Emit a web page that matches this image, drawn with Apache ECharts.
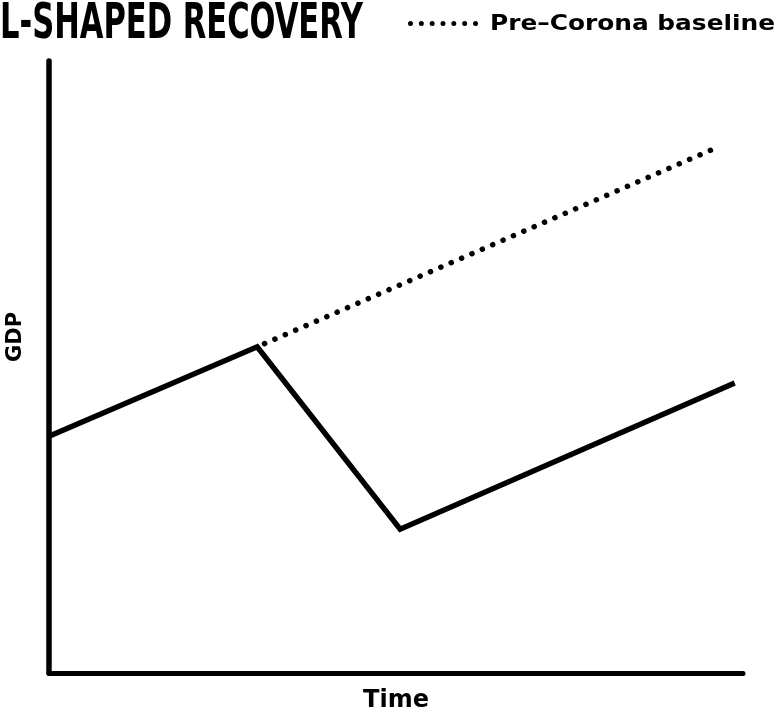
<!DOCTYPE html>
<html>
<head>
<meta charset="utf-8">
<script src="https://cdn.jsdelivr.net/npm/echarts@6/dist/echarts.min.js"></script>
<style>
  html, body { margin: 0; padding: 0; background: #fff; }
  #chart { width: 778px; height: 708px; }
</style>
</head>
<body>
<div id="chart"></div>
<script>
// ---- data ----
var titleText = 'L-SHAPED RECOVERY';
var xAxisName = 'Time';
var yAxisName = 'GDP';
var baselineName = 'Pre\u2013Corona baseline';
var actualName = 'L-shaped path';

var actualTime = [0, 30, 50.6, 98.8];
var actualGDP  = [38.7, 53.3, 23.5, 47.4];

var baselineTime = [30, 95.7];
var baselineGDP  = [53.3, 85.6];

function pairs(xs, ys) { return xs.map(function (x, i) { return [x, ys[i]]; }); }

var ctx = document.createElement('canvas').getContext('2d');
function scaleFor(text, font, target) {
  ctx.font = font;
  var w = ctx.measureText(text).width;
  return w > 0 ? target / w : 1;
}

var titleFont = 'bold 50px "DejaVu Sans Condensed", "DejaVu Sans", sans-serif';
var titleScale = scaleFor(titleText, titleFont, 363);
var legendFont = 'bold 21px "DejaVu Sans", sans-serif';
var legendScale = scaleFor(baselineName, legendFont, 285);

// dotted legend icon: 7 round dots
var dotIcon = 'path://';
for (var i = 0; i < 7; i++) {
  var cx = 2.5 + i * 65 / 6;
  dotIcon += 'M' + (cx - 2.5) + ',2.5a2.5,2.5 0 1,0 5,0a2.5,2.5 0 1,0 -5,0';
}

var chart = echarts.init(document.getElementById('chart'), null, { renderer: 'canvas' });
chart.setOption({
  animation: false,
  backgroundColor: '#ffffff',
  grid: { left: 49, right: 35, top: 61, bottom: 35, containLabel: false, outerBoundsMode: 'none' },
  legend: {
    data: [{ name: baselineName, icon: dotIcon }],
    left: 408,
    top: 21,
    padding: 0,
    itemWidth: 70,
    itemHeight: 5,
    formatter: function () { return ''; },
    textStyle: { fontSize: 1 }
  },
  graphic: [{
    type: 'text',
    left: 0,
    top: 0,
    scaleX: titleScale,
    style: { text: titleText, font: titleFont, fill: '#000' }
  }, {
    type: 'text',
    left: 490,
    top: 14,
    scaleX: legendScale,
    style: { text: baselineName, font: legendFont, fill: '#000' }
  }],
  xAxis: {
    type: 'value',
    min: 0,
    max: 100,
    name: xAxisName,
    nameLocation: 'middle',
    nameGap: 16,
    nameTextStyle: {
      fontFamily: '"DejaVu Sans", sans-serif',
      fontWeight: 'bold',
      fontSize: 24,
      color: '#000'
    },
    axisLine: { show: true, lineStyle: { color: '#000', width: 5 } },
    axisTick: { show: false },
    axisLabel: { show: false },
    splitLine: { show: false }
  },
  yAxis: {
    type: 'value',
    min: 0,
    max: 100,
    name: yAxisName,
    nameLocation: 'middle',
    nameGap: 23,
    nameRotate: 90,
    nameTextStyle: {
      fontFamily: '"DejaVu Sans", sans-serif',
      fontWeight: 'bold',
      fontSize: 21,
      color: '#000',
      padding: [0, 0, 0, 60]
    },
    axisLine: { show: true, onZero: false, lineStyle: { color: '#000', width: 5.5 } },
    axisTick: { show: false },
    axisLabel: { show: false },
    splitLine: { show: false }
  },
  series: [
    {
      name: actualName,
      type: 'line',
      data: pairs(actualTime, actualGDP),
      showSymbol: false,
      symbol: 'none',
      lineStyle: { color: '#000', width: 5.5, join: 'miter', cap: 'butt' },
      z: 3
    },
    {
      name: baselineName,
      type: 'line',
      data: pairs(baselineTime, baselineGDP),
      showSymbol: false,
      symbol: 'none',
      itemStyle: { color: '#000' },
      lineStyle: { color: '#000', width: 5.5, type: [0.1, 11.2], cap: 'round', dashOffset: -8 },
      z: 2
    }
  ]
});
</script>
</body>
</html>
